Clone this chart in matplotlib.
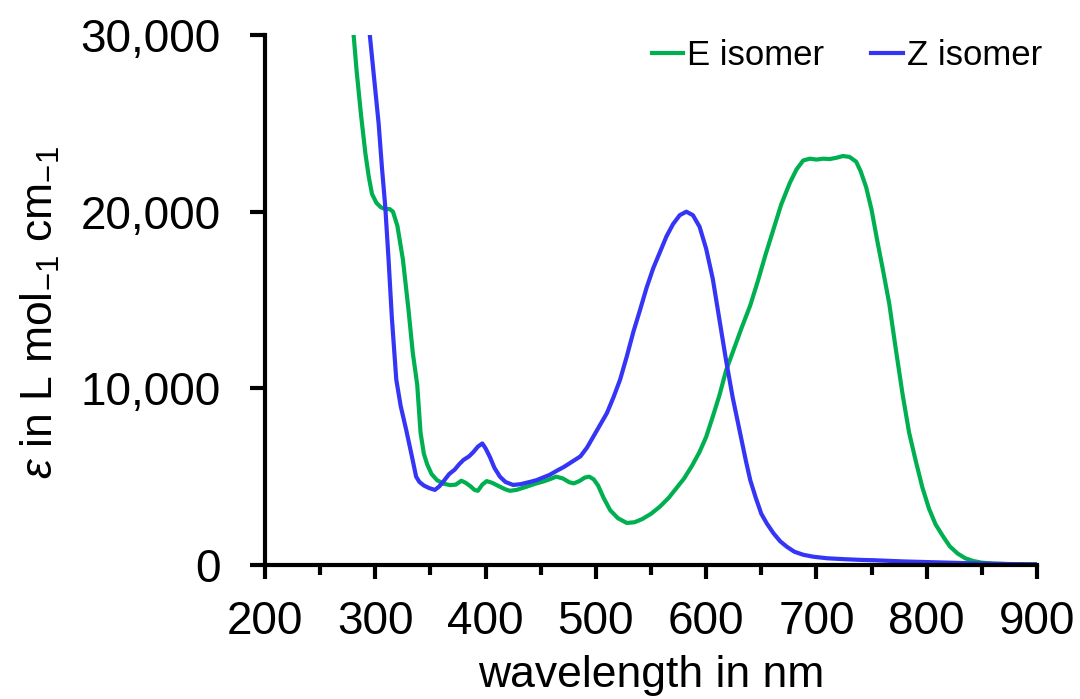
import matplotlib
matplotlib.use('Agg')
import matplotlib.pyplot as plt
from matplotlib.ticker import MultipleLocator, FuncFormatter

plt.rcParams['font.family'] = ['Liberation Sans', 'DejaVu Sans']
plt.rcParams['mathtext.fontset'] = 'custom'
plt.rcParams['mathtext.rm'] = 'Liberation Sans'
plt.rcParams['mathtext.it'] = 'Liberation Sans:italic'

# E isomer (green)
e_wl = [279, 283, 287, 291, 294, 297, 301, 305, 309, 313, 316, 320, 325, 330, 334,
        338, 341, 344, 347, 351, 356, 362, 368, 373, 378, 382, 386, 390, 393, 397,
        401, 406, 413, 418, 422, 428, 437, 445, 452, 458, 464, 470, 476, 480, 485,
        490, 494, 498, 502, 507, 513, 520, 528, 535, 542, 550, 558, 566, 573, 580,
        587, 594, 600, 606, 612, 618, 625, 632, 640, 647, 654, 661, 668, 676, 682,
        688, 694, 700, 706, 712, 718, 724, 730, 736, 740, 745, 750, 755, 760, 766,
        772, 778, 784, 790, 796, 802, 808, 815, 821, 828, 835, 842, 850, 860, 875, 900]
e_eps = [31000, 28000, 25500, 23300, 22000, 21000, 20500, 20250, 20150, 20150, 20000,
         19200, 17300, 14500, 12000, 10200, 7500, 6300, 5700, 5150, 4800, 4600, 4520,
         4550, 4770, 4650, 4470, 4250, 4200, 4550, 4750, 4650, 4430, 4280, 4200, 4250,
         4430, 4600, 4720, 4850, 5000, 4900, 4680, 4620, 4750, 4950, 5000, 4850, 4500,
         3800, 3100, 2650, 2380, 2420, 2600, 2900, 3300, 3800, 4350, 4900, 5600, 6400,
         7250, 8400, 9600, 11000, 12200, 13400, 14700, 16100, 17600, 19000, 20400,
         21650, 22400, 22900, 23000, 22950, 23000, 22980, 23050, 23150, 23100, 22830,
         22300, 21400, 20100, 18400, 16800, 14800, 12200, 9700, 7500, 5900, 4400, 3200,
         2300, 1600, 1050, 650, 380, 230, 130, 80, 50, 40]

# Z isomer (blue)
z_wl = [293, 295, 299, 303, 306, 309, 312, 315, 319, 323, 328, 333, 337, 340, 344,
        349, 354, 358, 362, 367, 372, 376, 380, 385, 389, 393, 397, 400, 404, 408,
        413, 418, 425, 432, 440, 446, 452, 458, 465, 471, 476, 481, 486, 492, 498,
        504, 510, 516, 522, 528, 534, 540, 546, 552, 558, 564, 570, 576, 582, 588,
        594, 600, 606, 612, 618, 624, 630, 636, 640, 645, 650, 655, 661, 667, 673,
        680, 688, 697, 710, 725, 740, 752, 780, 810, 839, 870, 900]
z_eps = [31500, 30000, 27500, 25000, 22500, 20300, 17300, 14000, 10500, 9000, 7650,
         6200, 5000, 4700, 4500, 4350, 4250, 4450, 4750, 5150, 5400, 5700, 5950, 6150,
         6400, 6700, 6880, 6600, 6100, 5500, 5000, 4700, 4530, 4580, 4700, 4800, 4950,
         5100, 5350, 5550, 5750, 5950, 6150, 6650, 7300, 7950, 8600, 9500, 10500,
         11800, 13200, 14430, 15700, 16800, 17700, 18600, 19300, 19800, 20000, 19800,
         19150, 17900, 16200, 13900, 11600, 9500, 7700, 5900, 4800, 3800, 2900, 2350,
         1800, 1350, 1040, 750, 580, 470, 380, 330, 290, 270, 200, 150, 100, 60, 30]

fig = plt.figure(figsize=(10.8, 6.99), dpi=100)
ax = fig.add_axes([0.2454, 0.1917, 0.7148, 0.7582])

ax.plot(e_wl, e_eps, color='#00B050', lw=3.0, label='E isomer')
ax.plot(z_wl, z_eps, color='#3535F5', lw=3.0, label='Z isomer')

ax.set_xlim(200, 900)
ax.set_ylim(0, 30000)
ax.xaxis.set_major_locator(MultipleLocator(100))
ax.xaxis.set_minor_locator(MultipleLocator(50))
ax.yaxis.set_major_locator(MultipleLocator(10000))
ax.yaxis.set_major_formatter(FuncFormatter(lambda v, p: f'{int(v):,}'))

for s in ['top', 'right']:
    ax.spines[s].set_visible(False)
for s in ['left', 'bottom']:
    ax.spines[s].set_linewidth(3.0)

ax.tick_params(axis='x', which='major', direction='out', length=10, width=3.0,
               labelsize=33, pad=15)
ax.tick_params(axis='x', which='minor', direction='out', length=7, width=3.0)
ax.tick_params(axis='y', which='major', direction='out', length=11, width=3.0,
               labelsize=33, pad=21)

ax.set_xlabel('wavelength in nm', fontsize=32, labelpad=8)
ax.set_ylabel(r'$\epsilon$ in L mol$_{-1}$ cm$_{-1}$', fontsize=32)
ax.yaxis.set_label_coords(-0.263, 0.477)

ax.legend(loc='upper right', bbox_to_anchor=(1042 / 1080, 1 - 39 / 699),
          bbox_transform=fig.transFigure, frameon=False, ncol=2, fontsize=25,
          handlelength=0.9, handletextpad=0.12, columnspacing=1.35,
          borderpad=0, borderaxespad=0)

plt.savefig('out.png', dpi=100)
